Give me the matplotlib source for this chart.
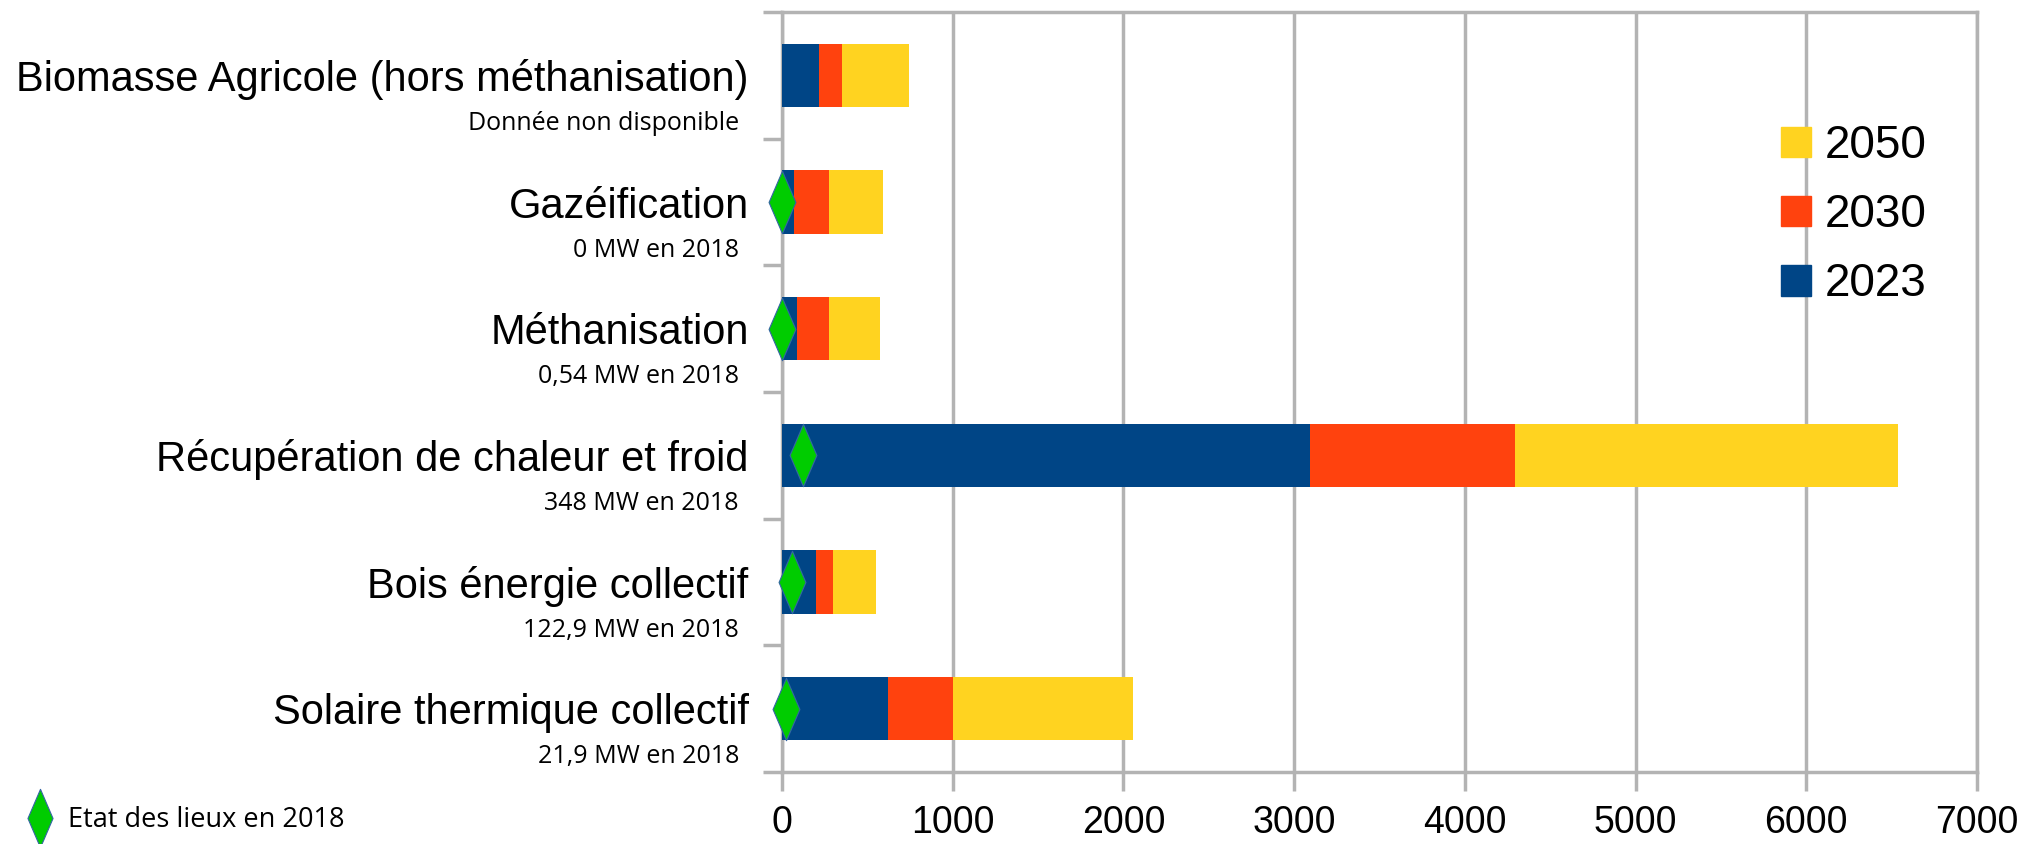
import matplotlib
matplotlib.use('Agg')
import matplotlib.pyplot as plt
from matplotlib.path import Path
from matplotlib.patches import Patch
from matplotlib.lines import Line2D
from matplotlib.transforms import blended_transform_factory
import numpy as np

# data (MW), segments of the stacked bars
categories = ['Biomasse Agricole (hors méthanisation)', 'Gazéification', 'Méthanisation',
              'Récupération de chaleur et froid', 'Bois énergie collectif', 'Solaire thermique collectif']
notes = ['Donnée non disponible', '0 MW en 2018', '0,54 MW en 2018',
         '348 MW en 2018', '122,9 MW en 2018', '21,9 MW en 2018']
seg_2023 = [216, 70, 88, 3090, 199, 620]
seg_2030 = [135, 205, 187, 1205, 99, 380]
seg_2050 = [391, 315, 298, 2240, 252, 1058]
etat_2018 = [np.nan, 0, 0, 125, 58, 23]
xticks = [0, 1000, 2000, 3000, 4000, 5000, 6000, 7000]

c2023, c2030, c2050 = '#004586', '#ff420e', '#ffd320'
grey = '#b3b3b3'
diamond = Path([(0, 1), (0.43, 0), (0, -1), (-0.43, 0), (0, 1)],
               [Path.MOVETO, Path.LINETO, Path.LINETO, Path.LINETO, Path.CLOSEPOLY])

fig = plt.figure(figsize=(20.25, 8.44), dpi=100)
ax = fig.add_axes([782/2025, 1-772/844, 1195/2025, 760/844])

y = np.arange(len(categories))
a = np.array(seg_2023)
b = np.array(seg_2030)
c = np.array(seg_2050)
ax.barh(y, a, height=0.5, color=c2023, zorder=3)
ax.barh(y, b, left=a, height=0.5, color=c2030, zorder=3)
ax.barh(y, c, left=a+b, height=0.5, color=c2050, zorder=3)
ax.plot(etat_2018, y, ls='none', marker=diamond, markersize=45,
        markerfacecolor='#00cc00', markeredgecolor='#3465a4', markeredgewidth=0.8,
        zorder=5, clip_on=False)

ax.set_xlim(0, 7000)
ax.set_ylim(len(categories)-0.5, -0.5)
ax.set_xticks(xticks)
ax.set_xticklabels([str(t) for t in xticks], fontsize=27, family='Liberation Sans')
ax.set_yticks(y)
ax.set_yticklabels(categories, fontsize=30, family='Liberation Sans')
ax.set_yticks(np.arange(-0.5, len(categories)), minor=True)
ax.tick_params(axis='y', which='major', length=0, pad=24)
ax.tick_params(axis='y', which='minor', length=14, width=2.5, color=grey)
ax.tick_params(axis='x', length=14, width=2.5, color=grey, pad=10)
ax.grid(axis='x', color=grey, lw=2.5, zorder=0)
for s in ax.spines.values():
    s.set_color(grey)
    s.set_linewidth(2.5)

# small notes under each category label
tr = blended_transform_factory(ax.transAxes, ax.transData)
for i, n in enumerate(notes):
    ax.text(-0.036, i + 0.38, n, transform=tr, ha='right', va='center',
            fontsize=18, family='Open Sans')

handles = [Patch(color=c2050), Patch(color=c2030), Patch(color=c2023)]
fig.legend(handles, ['2050', '2030', '2023'], loc='upper left',
           bbox_to_anchor=(1781/2025, 1-124/844), frameon=False,
           prop={'family': 'Liberation Sans', 'size': 33},
           handlelength=0.65, handleheight=0.65, handletextpad=0.3,
           labelspacing=0.55, borderpad=0, borderaxespad=0)

fig.legend([Line2D([], [], ls='none', marker=diamond, markersize=42,
                   markerfacecolor='#00cc00', markeredgecolor='#3465a4', markeredgewidth=0.8)],
           ['Etat des lieux en 2018'], loc='center left',
           bbox_to_anchor=(26/2025, 1-820/844), frameon=False,
           prop={'family': 'Open Sans', 'size': 19.5},
           handlelength=1.0, handletextpad=0.55, borderpad=0, borderaxespad=0)

fig.savefig('out.png', dpi=100)
